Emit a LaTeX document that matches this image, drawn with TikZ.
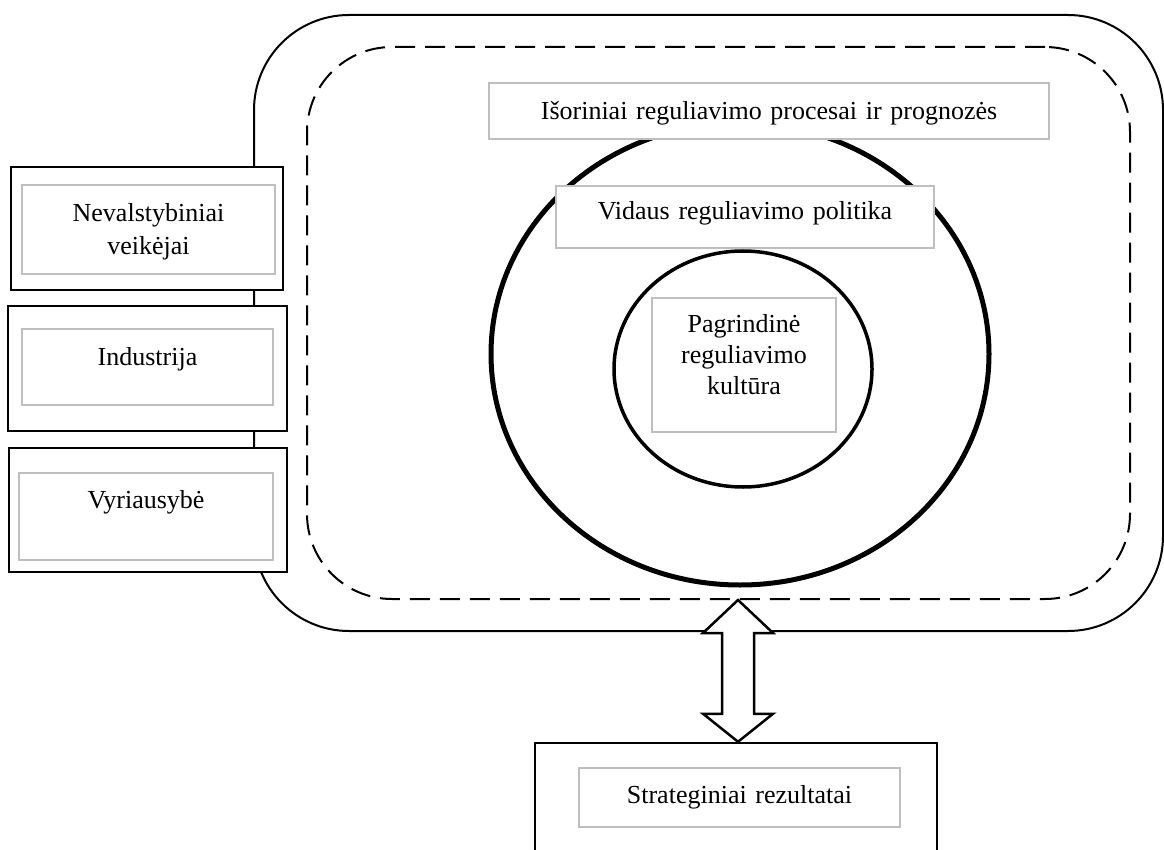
\documentclass[tikz,border=0pt]{standalone}
\usepackage{fontspec}
\setmainfont{Liberation Serif}
\usetikzlibrary{shapes.geometric,calc}
\begin{document}
\begin{tikzpicture}[x=1pt,y=-1pt,
  outerbox/.style={draw=black, line width=2pt, rounded corners=95pt, inner sep=0pt},
  dashbox/.style={draw=black, line width=2pt, dash pattern=on 20pt off 10pt, rounded corners=85pt, inner sep=0pt},
  ring/.style={draw=black, ellipse, inner sep=0pt},
  blk/.style={draw=black, line width=2.5pt, fill=white, inner sep=0pt},
  gbox/.style={draw=gray!50, line width=1.5pt, fill=white, inner sep=0pt, anchor=base, align=center, font=\fontsize{26}{31}\selectfont},
  arr/.style={draw=black, line width=2.5pt, fill=white, line join=miter},
]
\useasboundingbox (0,0) rectangle (1164,850);
\clip (0,0) rectangle (1164,850);

% frames
\node[outerbox, minimum width=909pt, minimum height=616pt] (outer) at (708.5,323) {};
\node[dashbox, minimum width=823pt, minimum height=552pt] (inner) at (718.5,323) {};

% rings
\node[ring, line width=5pt, minimum width=498pt, minimum height=462pt] (ext) at (740,354) {};
\node[ring, line width=3.5pt, minimum width=258pt, minimum height=236pt] (core) at (743,369) {};

% labels in the rings
\node[gbox, text width=560pt, text height=37pt, text depth=19pt] (isor) at (769,120) {Išoriniai reguliavimo procesai ir prognozės};
\node[gbox, text width=378pt, text height=34pt, text depth=28pt] (vid) at (745,220) {Vidaus reguliavimo politika};
\node[gbox, text width=184pt, text height=34pt, text depth=100pt] (pag) at (744,332) {Pagrindinė\\reguliavimo\\kultūra};

% actors on the left
\node[blk, minimum width=272pt, minimum height=123pt] (nvB) at (147,228.5) {};
\node[gbox, font=\fontsize{26}{33}\selectfont, text width=253pt, text height=37pt, text depth=52pt] (nv) at (148.5,222) {Nevalstybiniai\\veikėjai};
\node[blk, minimum width=279pt, minimum height=125pt] (inB) at (147.5,368.5) {};
\node[gbox, text width=251pt, text height=36pt, text depth=40pt] (ind) at (147.5,365) {Industrija};
\node[blk, minimum width=278pt, minimum height=124pt] (vyB) at (148,510) {};
\node[gbox, text width=254pt, text height=35pt, text depth=52pt] (vy) at (146,508) {Vyriausybė};

% results
\node[blk, minimum width=402pt, minimum height=137pt] (stB) at (736,811.5) {};
\node[gbox, text width=321pt, text height=35pt, text depth=24pt] (st) at (739.5,803) {Strateginiai rezultatai};

% double block arrow
\coordinate (at) at (inner.south -| 738,0);
\coordinate (ab) at (stB.north -| 738,0);
\draw[arr] (at) -- ++(35,33) -- ++(-19,0) -- ($(ab)+(16,-28)$) -- ++(19,0) -- (ab)
  -- ++(-35,-28) -- ++(19,0) -- ($(at)+(-16,33)$) -- ++(-19,0) -- cycle;
\end{tikzpicture}
\end{document}
